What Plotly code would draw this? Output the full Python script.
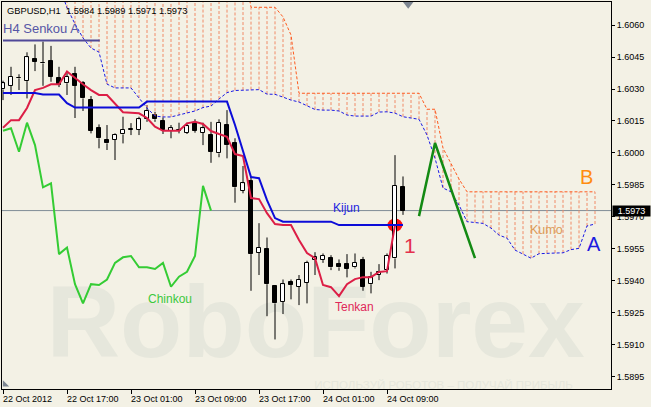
import plotly.graph_objects as go

# ---------------- data ----------------
x_tick_idx = [0, 8, 16, 24, 32, 40, 48]
x_tick_labels = ["22 Oct 2012", "22 Oct 17:00", "23 Oct 01:00", "23 Oct 09:00",
                 "23 Oct 17:00", "24 Oct 01:00", "24 Oct 09:00"]
y_ticks = [1.5895, 1.5910, 1.5925, 1.5940, 1.5955, 1.5970, 1.5985,
           1.6000, 1.6015, 1.6030, 1.6045, 1.6060]
y_tick_labels = ["1.5895", "1.5910", "1.5925", "1.5940", "1.5955", "1.5970", "1.5985",
                 "1.6000", "1.6015", "1.6030", "1.6045", "1.6060"]

opens = [1.60298, 1.60315, 1.60350, 1.60337, 1.60441, 1.60422, 1.60431, 1.60353, 1.60327, 1.60369,
         1.60327, 1.60248, 1.60116, 1.60061, 1.60061, 1.60087, 1.60110, 1.60108, 1.60158, 1.60178,
         1.60151, 1.60104, 1.60104, 1.60095, 1.60142, 1.60095, 1.60084, 1.59998, 1.60131, 1.60048,
         1.59823, 1.59870, 1.59532, 1.59548, 1.59376, 1.59302, 1.59396, 1.59373, 1.59391, 1.59498,
         1.59498, 1.59506, 1.59479, 1.59479, 1.59464, 1.59498, 1.59385, 1.59428, 1.59451, 1.59506,
         1.59840]
highs = [1.60339, 1.60404, 1.60369, 1.60472, 1.60509, 1.60522, 1.60502, 1.60404, 1.60381, 1.60404,
         1.60337, 1.60267, 1.60134, 1.60131, 1.60092, 1.60170, 1.60140, 1.60170, 1.60225, 1.60193,
         1.60167, 1.60131, 1.60142, 1.60142, 1.60158, 1.60142, 1.60146, 1.60158, 1.60201, 1.60069,
         1.59939, 1.59889, 1.59671, 1.59604, 1.59380, 1.59407, 1.59407, 1.59428, 1.59495, 1.59535,
         1.59529, 1.59521, 1.59501, 1.59526, 1.59529, 1.59513, 1.59443, 1.59479, 1.59529, 1.59990,
         1.59890]
lows = [1.60248, 1.60272, 1.60295, 1.60256, 1.60384, 1.60315, 1.60334, 1.60309, 1.60272, 1.60164,
        1.60197, 1.60092, 1.60022, 1.60014, 1.59967, 1.60045, 1.60084, 1.60084, 1.60146, 1.60146,
        1.60089, 1.60069, 1.60092, 1.60089, 1.60095, 1.60037, 1.59954, 1.59980, 1.59975, 1.59767,
        1.59811, 1.59354, 1.59428, 1.59235, 1.59126, 1.59245, 1.59314, 1.59287, 1.59295, 1.59428,
        1.59485, 1.59451, 1.59448, 1.59417, 1.59459, 1.59354, 1.59342, 1.59404, 1.59435, 1.59459,
        1.59710]
closes = [1.60327, 1.60358, 1.60352, 1.60449, 1.60428, 1.60420, 1.60358, 1.60319, 1.60358, 1.60315,
          1.60256, 1.60103, 1.60069, 1.60045, 1.60084, 1.60108, 1.60112, 1.60158, 1.60198, 1.60158,
          1.60108, 1.60116, 1.60106, 1.60126, 1.60104, 1.60116, 1.60006, 1.60142, 1.60037, 1.59839,
          1.59858, 1.59526, 1.59557, 1.59385, 1.59295, 1.59385, 1.59381, 1.59407, 1.59485, 1.59511,
          1.59517, 1.59464, 1.59464, 1.59456, 1.59485, 1.59373, 1.59420, 1.59443, 1.59517, 1.59846,
          1.59730]

tenkan = [1.60118, 1.60154, 1.60154, 1.60211, 1.60295, 1.60305, 1.60322, 1.60322, 1.60382, 1.60351,
          1.60322, 1.60295, 1.60272, 1.60272, 1.60234, 1.60191, 1.60189, 1.60186, 1.60164, 1.60123,
          1.60104, 1.60104, 1.60104, 1.60139, 1.60146, 1.60136, 1.60103, 1.60089, 1.60076, 1.59995,
          1.59986, 1.59789, 1.59784, 1.59718, 1.59667, 1.59662, 1.59662, 1.59592, 1.59531, 1.59507,
          1.59381, 1.59371, 1.59329, 1.59385, 1.59409, 1.59418, 1.59418, 1.59442, 1.59446, 1.59662,
          1.59662]
kijun = [1.60281, 1.60281, 1.60281, 1.60281, 1.60281, 1.60274, 1.60274, 1.60274, 1.60234, 1.60213,
         1.60213, 1.60213, 1.60213, 1.60213, 1.60213, 1.60213, 1.60213, 1.60213, 1.60241, 1.60241,
         1.60241, 1.60241, 1.60241, 1.60241, 1.60241, 1.60241, 1.60241, 1.60241, 1.60241, 1.60131,
         1.60014, 1.59887, 1.59882, 1.59779, 1.59695, 1.59678, 1.59678, 1.59678, 1.59678, 1.59678,
         1.59678, 1.59678, 1.59662, 1.59662, 1.59662, 1.59662, 1.59662, 1.59662, 1.59662, 1.59662,
         1.59662]
chinkou = [1.60104, 1.60116, 1.60006, 1.60142, 1.60037, 1.59839, 1.59858, 1.59526, 1.59557, 1.59385,
           1.59295, 1.59385, 1.59381, 1.59407, 1.59485, 1.59511, 1.59517, 1.59464, 1.59464, 1.59456,
           1.59485, 1.59373, 1.59420, 1.59443, 1.59517, 1.59846, 1.59730]
senkou_a = [1.6082, 1.6082, 1.6081, 1.6081, 1.6080, 1.6080, 1.6080, 1.6079, 1.60680, 1.60605,
            1.60539, 1.60492, 1.60473, 1.60323, 1.60305, 1.60305, 1.60305, 1.60258, 1.60211, 1.60173,
            1.60169, 1.60169, 1.60178, 1.60187, 1.60197, 1.60213, 1.60220, 1.60253, 1.60283, 1.60293,
            1.60295, 1.60297, 1.60297, 1.60276, 1.60275, 1.60262, 1.60248, 1.60239, 1.60220, 1.60204,
            1.60201, 1.60201, 1.60197, 1.60178, 1.60173, 1.60173, 1.60173, 1.60192, 1.60193, 1.60187,
            1.60170, 1.60164, 1.60158, 1.60084, 1.59976, 1.59836, 1.59818, 1.59756, 1.59678, 1.59674,
            1.59670, 1.59648, 1.59615, 1.59601, 1.59545, 1.59526, 1.59507, 1.59528, 1.59531, 1.59531,
            1.59532, 1.59547, 1.59553, 1.59658, 1.59667]
senkou_b = [1.6090, 1.6090, 1.6090, 1.6090, 1.6090, 1.6090, 1.6090, 1.6090, 1.6090, 1.6090,
            1.6090, 1.6090, 1.6090, 1.6090, 1.6090, 1.6090, 1.6090, 1.6090, 1.6090, 1.6090,
            1.6090, 1.6090, 1.6090, 1.6090, 1.6090, 1.6090, 1.6090, 1.6090, 1.6090, 1.6090,
            1.6090, 1.60683, 1.60683, 1.60683, 1.60683, 1.60638, 1.60553, 1.60280, 1.60280, 1.60280,
            1.60280, 1.60280, 1.60280, 1.60280, 1.60280, 1.60280, 1.60280, 1.60280, 1.60280, 1.60280,
            1.60280, 1.60280, 1.60280, 1.60205, 1.60205, 1.60023, 1.59953, 1.59878, 1.59818, 1.59818,
            1.59818, 1.59818, 1.59818, 1.59818, 1.59818, 1.59818, 1.59818, 1.59818, 1.59818, 1.59818,
            1.59818, 1.59818, 1.59818, 1.59818, 1.59818]

# hand-drawn annotations on the chart
arrow_k = [52, 54, 59]
arrow_p = [1.59704, 1.60047, 1.59507]
h4_k = [0.0, 12.1]
h4_p = [1.60527, 1.60527]
cross_k = 49

header = "GBPUSD,H1  1.5984 1.5989 1.5971 1.5973"

# ---------------- styling ----------------
BG = "#f3f1e5"
FONT = "Liberation Sans"
TENKAN_C = "#dc1e46"
KIJUN_C = "#0c0cd8"
CHINKOU_C = "#34cc34"
SA_C = "#1a1ae6"
SB_C = "#ff5a1e"
HATCH_C = "#f08a66"

n = len(opens)
xb = list(range(n))
body_base = [min(o, c) for o, c in zip(opens, closes)]
body_h = [max(abs(c - o), 0.00002) for o, c in zip(opens, closes)]
body_col = ["white" if c >= o else "black" for o, c in zip(opens, closes)]

wx, wy = [], []
for i in range(n):
    top = max(opens[i], closes[i])
    bot = min(opens[i], closes[i])
    if highs[i] > top:
        wx += [i, i, None]
        wy += [highs[i], top, None]
    if lows[i] < bot:
        wx += [i, i, None]
        wy += [bot, lows[i], None]

hx, hy = [], []
for i, (a, b) in enumerate(zip(senkou_a, senkou_b)):
    hx += [i, i, None]
    hy += [a, b, None]

fig = go.Figure()

fig.add_trace(go.Bar(x=xb, y=body_h, base=body_base, width=0.5,
                     marker=dict(color=body_col, line=dict(color="black", width=1))))
fig.add_trace(go.Scatter(x=wx, y=wy, mode="lines", line=dict(color="black", width=1)))
fig.add_trace(go.Scatter(x=hx, y=hy, mode="lines",
                         line=dict(color=HATCH_C, width=1, dash="3px,2px")))
fig.add_trace(go.Scatter(x=list(range(len(senkou_a))), y=senkou_a, mode="lines",
                         line=dict(color=SA_C, width=1, dash="3px,2px")))
fig.add_trace(go.Scatter(x=list(range(len(senkou_b))), y=senkou_b, mode="lines",
                         line=dict(color=SB_C, width=1, dash="3px,2px")))
fig.add_trace(go.Scatter(x=list(range(len(chinkou))), y=chinkou, mode="lines",
                         line=dict(color=CHINKOU_C, width=2)))
fig.add_trace(go.Scatter(x=xb, y=tenkan, mode="lines", line=dict(color=TENKAN_C, width=2)))
fig.add_trace(go.Scatter(x=xb, y=kijun, mode="lines", line=dict(color=KIJUN_C, width=2)))
fig.add_trace(go.Scatter(x=h4_k, y=h4_p, mode="lines", line=dict(color="#4f4898", width=2)))
fig.add_trace(go.Scatter(x=arrow_k, y=arrow_p, mode="lines", line=dict(color="#138a13", width=2.5)))
# chart-shift marker and corner marker
fig.add_trace(go.Scatter(x=[50.65], y=[1.60697], mode="markers", cliponaxis=False,
                         marker=dict(symbol="triangle-down", size=9, color="#7c8590", line=dict(width=0))))
fig.add_trace(go.Scatter(x=[0.25], y=[1.58915], mode="markers", cliponaxis=False,
                         marker=dict(symbol="triangle-sw", size=7, color="#7c8590", line=dict(width=0))))

shapes = [
    dict(type="rect", xref="paper", yref="paper", x0=0.42, x1=0.61, y0=0.15, y1=0.25,
         line=dict(width=0), fillcolor="rgba(0,0,0,0)", layer="below",
         label=dict(text="<b>RoboForex</b>", textposition="middle center",
                    font=dict(family=FONT, size=102, color="#e6e7dc"))),
    dict(type="rect", xref="paper", yref="paper", x0=0.62, x1=0.83, y0=0.0, y1=0.03,
         line=dict(width=0), fillcolor="rgba(0,0,0,0)", layer="below",
         label=dict(text="ИСПОЛЬЗУЙ РОБОТОВ – ПОЛУЧАЙ ПРИБЫЛЬ", textposition="middle center",
                    font=dict(family=FONT, size=11.5, color="#e6e7dc"))),
    dict(type="line", xref="paper", yref="y", x0=0, x1=1, y0=closes[-1], y1=closes[-1],
         line=dict(color="#7f8c96", width=1), layer="below"),
    dict(type="circle", xref="x", yref="y", xsizemode="pixel", ysizemode="pixel",
         xanchor=cross_k, yanchor=kijun[cross_k], x0=-7.5, x1=7.5, y0=-6.5, y1=6.5,
         fillcolor="#ff1010", line=dict(width=0), layer="below"),
]

ann = []
for k, lbl in zip(x_tick_idx, x_tick_labels):
    ann.append(dict(x=k, xref="x", y=0, yref="paper", yanchor="top", xanchor="left",
                    xshift=-2, yshift=-3, text=lbl, showarrow=False,
                    font=dict(family=FONT, size=9, color="black")))
ann += [
    dict(x=0.005, xref="paper", y=0.978, yref="paper", xanchor="left", yanchor="middle",
         text=header, showarrow=False, font=dict(family=FONT, size=9.3, color="black")),
    dict(x=-0.001, xref="paper", y=0.9315, yref="paper", xanchor="left", yanchor="middle",
         text="H4 Senkou A", showarrow=False, font=dict(family=FONT, size=13, color="#5656a6")),
    dict(x=42.9, y=1.59742, text="Kijun", showarrow=False,
         font=dict(family=FONT, size=12, color="#2424e0")),
    dict(x=43.9, y=1.59277, text="Tenkan", showarrow=False,
         font=dict(family=FONT, size=12, color="#e0285a")),
    dict(x=20.9, y=1.59315, text="Chinkou", showarrow=False,
         font=dict(family=FONT, size=12, color="#3cc83c")),
    dict(x=67.9, y=1.59639, text="Kumo", showarrow=False,
         font=dict(family=FONT, size=12.5, color="#dc9c58")),
    dict(x=72.9, y=1.59887, text="B", showarrow=False,
         font=dict(family=FONT, size=20, color="#ff8c10")),
    dict(x=73.9, y=1.59573, text="A", showarrow=False,
         font=dict(family=FONT, size=20, color="#1c1ce0")),
    dict(x=50.9, y=1.59566, text="1", showarrow=False,
         font=dict(family=FONT, size=21, color="#e4304e")),
    dict(x=1, xref="paper", xanchor="left", xshift=0.5, y=closes[-1], yref="y", yanchor="middle",
         text=f"{closes[-1]:.4f}", showarrow=False, bgcolor="black", width=37, align="center",
         borderpad=0, font=dict(family=FONT, size=9, color="white")),
]

fig.update_layout(
    width=651, height=407,
    margin=dict(l=2, r=40, t=2, b=18, pad=0),
    paper_bgcolor=BG, plot_bgcolor=BG,
    showlegend=False, hovermode=False,
    barmode="overlay", bargap=0,
    shapes=shapes, annotations=ann,
    xaxis=dict(range=[-0.125, 76], showgrid=False, zeroline=False,
               showline=True, linecolor="black", linewidth=1, mirror=True,
               tickvals=x_tick_idx, showticklabels=False,
               ticks="outside", ticklen=4, tickcolor="black", tickwidth=1),
    yaxis=dict(side="right", range=[1.588937, 1.607078], showgrid=False, zeroline=False,
               showline=True, linecolor="black", linewidth=1, mirror=True,
               tickvals=y_ticks, ticktext=y_tick_labels,
               ticks="outside", ticklen=3, tickcolor="black", tickwidth=1,
               tickfont=dict(family=FONT, size=9, color="black")),
)

fig.write_html("out.html", config={"displayModeBar": False},
               post_script="document.body.style.margin='0';document.body.style.overflow='hidden';")
